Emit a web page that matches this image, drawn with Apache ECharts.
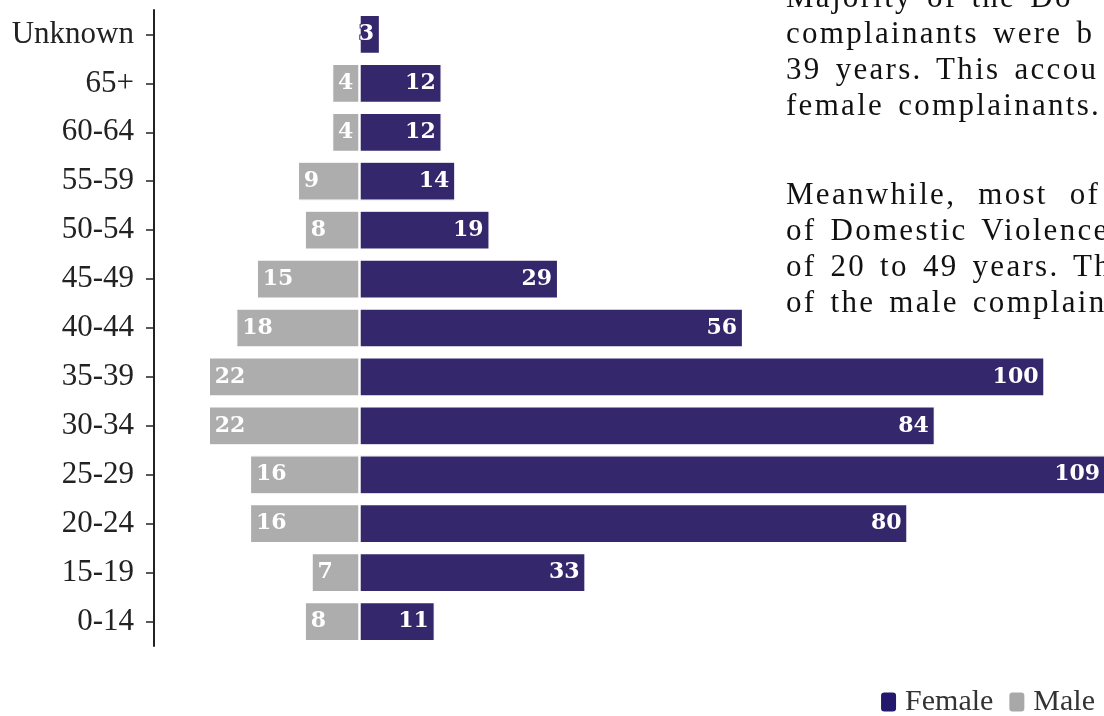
<!doctype html>
<html>
<head>
<meta charset="UTF-8">
<title>Complainants by age and sex</title>
<script src="https://cdn.jsdelivr.net/npm/echarts@6/dist/echarts.min.js"></script>
<style>
  html, body { margin: 0; padding: 0; background: #fff; overflow: hidden; }
  #wrap { position: relative; width: 1104px; height: 716px; overflow: hidden; }
  #main { position: absolute; left: 0; top: 0; width: 1104px; height: 716px; }
  .note {
    position: absolute; left: 786px; white-space: nowrap;
    font-family: "Liberation Serif", serif; font-size: 31px; line-height: 31px;
    letter-spacing: 2.3px; word-spacing: 4px; color: #111;
  }
</style>
</head>
<body>
<div id="wrap">
  <div id="main"></div>
  <div class="note" style="top:-19px">Majority of the Do</div>
  <div class="note" style="top:17px">complainants were b</div>
  <div class="note" style="top:53px">39 years. This accou</div>
  <div class="note" style="top:89px">female complainants.</div>
  <div class="note" style="top:178px; word-spacing:12px">Meanwhile, most of</div>
  <div class="note" style="top:214px">of Domestic Violence</div>
  <div class="note" style="top:250px">of 20 to 49 years. Th</div>
  <div class="note" style="top:286px">of the male complain</div>
</div>
<script type="text/javascript">
// age groups, bottom to top
var ageGroups = ['0-14', '15-19', '20-24', '25-29', '30-34', '35-39', '40-44', '45-49', '50-54', '55-59', '60-64', '65+', 'Unknown'];
var female = [11, 33, 80, 109, 84, 100, 56, 29, 19, 14, 12, 12, 3];
var male = [8, 7, 16, 16, 22, 22, 18, 15, 8, 9, 4, 4, null];

var purple = '#35276b';
var grey = '#adadad';

// male bars go to the left
var maleLeft = male.map(function (v) { return v == null ? null : -v; });

var barLabel = function (pos, col) {
    return {
        show: true,
        position: pos,
        distance: 6,
        color: '#fff',
        fontFamily: 'DejaVu Serif',
        fontWeight: 'bold',
        fontSize: 22,
        textBorderColor: col,
        textBorderWidth: 2,
        formatter: function (p) { return Math.abs(p.value); }
    };
};

var myChart = echarts.init(document.getElementById('main'));

var option = {
    animation: false,
    grid: { left: 154, top: 10, height: 636, width: 959, outerBoundsMode: 'none' },
    legend: {
        right: 4,
        bottom: -6,
        icon: 'roundRect',
        itemWidth: 17,
        itemHeight: 21,
        itemGap: 14,
        textStyle: { fontFamily: 'Liberation Serif', fontSize: 30, color: '#333', padding: [0, 0, 0, 3] },
        data: [
            { name: 'Female', itemStyle: { color: '#23186b' } },
            { name: 'Male', itemStyle: { color: '#a8a8a8' } }
        ]
    },
    xAxis: {
        type: 'value',
        min: -30,
        max: 110,
        show: false
    },
    yAxis: {
        type: 'category',
        data: ageGroups,
        axisLine: { show: true, onZero: false, lineStyle: { color: '#222', width: 2 } },
        axisTick: { show: true, alignWithLabel: true, length: 8, lineStyle: { color: '#222', width: 1.5 } },
        axisLabel: { margin: 20, color: '#222', fontFamily: 'Liberation Serif', fontSize: 31 }
    },
    series: [
        {
            name: 'Female',
            type: 'bar',
            data: female,
            barWidth: '80%',
            barGap: '-100%',
            itemStyle: { color: purple, borderColor: '#fff', borderWidth: 1.2 },
            label: barLabel('insideRight', purple)
        },
        {
            name: 'Male',
            type: 'bar',
            data: maleLeft,
            barWidth: '80%',
            barGap: '-100%',
            itemStyle: { color: grey, borderColor: '#fff', borderWidth: 1.2 },
            label: barLabel('insideLeft', grey)
        }
    ]
};

myChart.setOption(option);
</script>
</body>
</html>
